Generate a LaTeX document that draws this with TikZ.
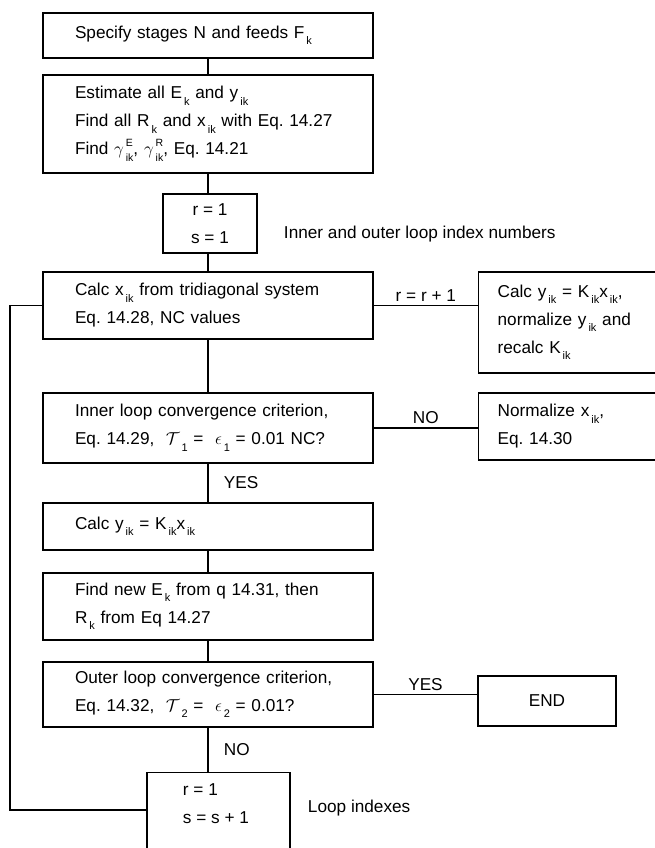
\documentclass[tikz,border=0pt]{standalone}
\usepackage{amsmath}
\usepackage{fontspec}
\setmainfont{Liberation Sans}
\usetikzlibrary{positioning}

% indice abaissé, comme dans la figure
\newcommand{\dn}[1]{\kern2pt\raisebox{-6.5pt}{\fontsize{11}{11}\selectfont #1}}
% exposant et indice superposés
\newcommand{\ud}[2]{\kern2pt\raisebox{-7pt}{\fontsize{10.5}{11}\selectfont\shortstack[l]{#1\\[4.5pt]#2}}}

\begin{document}
\frenchspacing
\begin{tikzpicture}[
        x=1pt,
        y=-1pt,
        line width=1.3pt,
        every node/.style={font=\fontsize{17.2}{28}\selectfont},
        etape/.style={draw, align=left, text width=266pt, inner xsep=32pt, inner ysep=0pt, minimum height=#1},
        cote/.style={draw, align=left, text width=182pt, inner xsep=19pt, inner ysep=0pt, minimum height=#1},
        petit/.style={draw, align=center, minimum width=#1}
    ]
        % --- Cadre de l'image ---
        \useasboundingbox (0,0) rectangle (655,848);
        \clip (0,0) rectangle (655,848);

        % --- Colonne principale ---
        \node[etape=45pt] (spec) at (208,35.5) {Specify stages N and feeds F\dn{k}};
        \node[etape=98pt] (estim) at (208,124) {Estimate all E\dn{k} and y\dn{ik}\\
            Find all R\dn{k} and x\dn{ik} with Eq. 14.27\\
            Find $\gamma$\ud{E}{ik}, $\gamma$\ud{R}{ik}, Eq. 14.21};
        \node[petit=94pt, minimum height=59pt] (init) at (210,223.5) {r = 1\\ s = 1};
        \node[anchor=west] (initTxt) at (280,234) {Inner and outer loop index numbers};
        \node[etape=67pt] (calcx) at (208,305.5) {Calc x\dn{ik} from tridiagonal system\\
            Eq. 14.28, NC values};
        \node[etape=70pt] (inner) at (208,428) {Inner loop convergence criterion,\\
            Eq. 14.29,\ \ $\mathcal{T}$\dn{1} =\ \ $\epsilon$\dn{1} = 0.01 NC?};
        \node[etape=47pt] (calcyk) at (208,526.5) {Calc y\dn{ik} = K\dn{ik}x\dn{ik}};
        \node[etape=67pt] (findE) at (208,606.5) {Find new E\dn{k} from q 14.31, then\\
            R\dn{k} from Eq 14.27};
        \node[etape=65pt] (outer) at (208,694.5) {Outer loop convergence criterion,\\
            Eq. 14.32,\ \ $\mathcal{T}$\dn{2} =\ \ $\epsilon$\dn{2} = 0.01?};

        % --- Boîte du bas (coupée par le bord) ---
        \node[draw, minimum width=143pt, minimum height=110pt, anchor=north] (fin) at (218.5,772) {};
        \node[anchor=north west, align=left] (finTxt) at (179,780) {r = 1\\ s = s + 1};
        \node[anchor=west] (finLbl) at (304,808) {Loop indexes};

        % --- Colonne de droite ---
        \node[cote=101pt, anchor=west] (calcyR) at (478,322.5) {Calc y\dn{ik} = K\dn{ik}x\dn{ik},\\
            normalize y\dn{ik} and\\
            recalc K\dn{ik}};
        \node[cote=67pt, anchor=west] (norm) at (478,426.5) {Normalize x\dn{ik},\\
            Eq. 14.30};
        \node[petit=138pt, minimum height=50pt] (END) at (547,701) {END};

        % --- Liaisons verticales ---
        \draw (spec.south) -- (estim.north);
        \draw (estim.south) -- (estim.south |- init.north);
        \draw (estim.south |- init.south) -- (calcx.north);
        \draw (calcx.south) -- (inner.north);
        \draw (inner.south) -- (calcyk.north) node[midway, right=12pt] {YES};
        \draw (calcyk.south) -- (findE.north);
        \draw (findE.south) -- (outer.north);
        \draw (outer.south) -- (outer.south |- fin.north) node[midway, right=12pt] {NO};

        % --- Liaisons horizontales ---
        \draw (calcx.east) -- (calcx.east -| calcyR.west) node[midway, above] {r = r + 1};
        \draw (inner.east) -- (inner.east -| norm.west) node[midway, above] {NO};
        \draw (outer.east) -- (outer.east -| END.west) node[midway, above] {YES};

        % --- Retour de boucle externe ---
        \coordinate (bas) at (10,810);
        \draw (calcx.west) -- (calcx.west -| bas) -- (bas) -- (bas -| fin.west);

    \end{tikzpicture}
\end{document}
